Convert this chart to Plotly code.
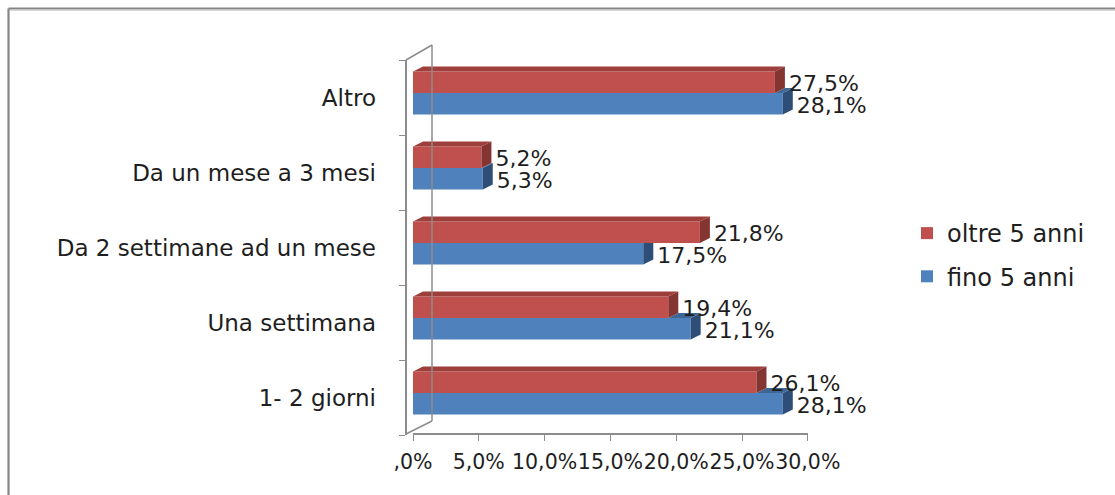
import plotly.graph_objects as go

# ---- data -------------------------------------------------------------
categorie = ["1- 2 giorni", "Una settimana", "Da 2 settimane ad un mese",
             "Da un mese a 3 mesi", "Altro"]
oltre_5_anni = [26.1, 19.4, 21.8, 5.2, 27.5]
fino_5_anni = [28.1, 21.1, 17.5, 5.3, 28.1]
tick_valori = [0, 5, 10, 15, 20, 25, 30]
tick_etichette = [",0%", "5,0%", "10,0%", "15,0%", "20,0%", "25,0%", "30,0%"]

# ---- page geometry (pixels) ------------------------------------------
W, H = 1115, 495


def fx(px):
    return px / W


def fy(py):
    return 1 - py / H


BAR_X0, BAR_X30 = 413, 807.8      # front faces of the bars
AX_X0, AX_X30 = 406, 800          # visible value axis
Y_TOP, Y_BOT = 60, 435            # category axis extent
XMAX = 30
N = len(categorie)

ux = XMAX / (BAR_X30 - BAR_X0)    # data units per pixel (x)
uy = N / (Y_BOT - Y_TOP)          # data units per pixel (y)

BAR_W = 21.5 * uy                 # thickness of each bar
SHIFT = 4.5 * uy                  # pair centre sits a little above slot centre
DX, DY = 10 * ux, 5 * uy          # oblique depth of the 3-D bars

RED, BLUE = "#C0504D", "#4F81BD"
RED_TOP, RED_SIDE = "#9F3F3C", "#843431"
BLUE_TOP, BLUE_SIDE = "#3E6796", "#2F4E77"
GRID = "#8C8C8C"
FONT = "DejaVu Sans, Verdana, sans-serif"
TXT = "#1E1E1E"
FS_CAT = 23
FS_VAL = 22
FS_TICK = 20.5
FS_LEG = 24

ypos = list(range(N))


def fmt(v):
    return f"{v:.1f}".replace(".", ",") + "%"


def polys(list_of_pts):
    xs, ys = [], []
    for pts in list_of_pts:
        for x, y in pts:
            xs.append(x)
            ys.append(y)
        xs.append(pts[0][0])
        ys.append(pts[0][1])
        xs.append(None)
        ys.append(None)
    return xs, ys


# ---- faces of the 3-D bars --------------------------------------------
red_top, red_side, blue_top, blue_side = [], [], [], []
for i, (vr, vb) in enumerate(zip(oltre_5_anni, fino_5_anni)):
    yr_top = i + SHIFT + BAR_W
    y_mid = i + SHIFT
    yb_bot = i + SHIFT - BAR_W
    red_top.append([(0, yr_top), (vr, yr_top), (vr + DX, yr_top + DY), (DX, yr_top + DY)])
    red_side.append([(vr, y_mid), (vr + DX, y_mid + DY), (vr + DX, yr_top + DY), (vr, yr_top)])
    if vr > vb:
        # the red bar hides the upper part of the blue side face
        blue_side.append([(vb, yb_bot), (vb + DX, yb_bot + DY), (vb + DX, y_mid), (vb, y_mid)])
    else:
        blue_side.append([(vb, yb_bot), (vb + DX, yb_bot + DY), (vb + DX, y_mid + DY), (vb, y_mid)])
        blue_top.append([(vr, y_mid), (vb, y_mid), (vb + DX, y_mid + DY), (vr + DX, y_mid + DY)])

fig = go.Figure()

fig.add_trace(go.Bar(
    name="oltre 5 anni", y=ypos, x=oltre_5_anni, orientation="h",
    width=BAR_W, offset=SHIFT, marker=dict(color=RED, line=dict(width=0)),
    legendgroup="r", hoverinfo="skip"))
fig.add_trace(go.Bar(
    name="fino 5 anni", y=ypos, x=fino_5_anni, orientation="h",
    width=BAR_W, offset=SHIFT - BAR_W, marker=dict(color=BLUE, line=dict(width=0)),
    legendgroup="b", hoverinfo="skip"))

for pts, col in [(blue_side, BLUE_SIDE), (blue_top, BLUE_TOP),
                 (red_top, RED_TOP), (red_side, RED_SIDE)]:
    if not pts:
        continue
    xs, ys = polys(pts)
    fig.add_trace(go.Scatter(
        x=xs, y=ys, mode="lines", fill="toself", fillcolor=col,
        line=dict(width=0, color=col), showlegend=False, hoverinfo="skip"))

# value labels
LBL = 4 * ux
fig.add_trace(go.Scatter(
    x=[v + DX + LBL for v in oltre_5_anni], y=[i + SHIFT + BAR_W / 2 - 3 * uy for i in ypos],
    mode="text", text=[fmt(v) for v in oltre_5_anni], textposition="middle right",
    textfont=dict(family=FONT, size=FS_VAL, color=TXT), showlegend=False, hoverinfo="skip",
    cliponaxis=False))
fig.add_trace(go.Scatter(
    x=[v + DX + LBL for v in fino_5_anni], y=[i + SHIFT - BAR_W / 2 - 4 * uy for i in ypos],
    mode="text", text=[fmt(v) for v in fino_5_anni], textposition="middle right",
    textfont=dict(family=FONT, size=FS_VAL, color=TXT), showlegend=False, hoverinfo="skip",
    cliponaxis=False))

# carrier for the visible value axis and the category boundary ticks
fig.add_trace(go.Scatter(x=[0], y=[-0.5], xaxis="x2", yaxis="y2", mode="markers",
                         marker=dict(opacity=0), showlegend=False, hoverinfo="skip"))

# ---- layout -------------------------------------------------------------
shapes = [
    # outer frame (only its top and left edges fall inside the page)
    dict(type="line", xref="paper", yref="paper", x0=fx(8.5), y0=fy(8.5), x1=1.0, y1=fy(8.5),
         line=dict(color="#858585", width=2.2)),
    dict(type="line", xref="paper", yref="paper", x0=fx(8.5), y0=fy(8.5), x1=fx(8.5), y1=0.0,
         line=dict(color="#858585", width=2.2)),
    dict(type="line", xref="paper", yref="paper", x0=fx(10), y0=fy(10.5), x1=1.0, y1=fy(10.5),
         line=dict(color="#D8D8D8", width=1)),
    # back wall of the 3-D plot
    dict(type="line", xref="paper", yref="paper", x0=fx(432), y0=fy(45), x1=fx(432), y1=fy(421),
         line=dict(color=GRID, width=1.5)),
    dict(type="line", xref="paper", yref="paper", x0=fx(406), y0=fy(60), x1=fx(432), y1=fy(45),
         line=dict(color=GRID, width=1.5)),
    dict(type="line", xref="paper", yref="paper", x0=fx(406), y0=fy(434), x1=fx(432), y1=fy(421),
         line=dict(color=GRID, width=1.5)),
]

fig.update_layout(
    width=W, height=H,
    autosize=False,
    margin=dict(l=0, r=0, t=0, b=0, pad=0, autoexpand=False),
    paper_bgcolor="white", plot_bgcolor="rgba(0,0,0,0)",
    barmode="overlay",
    font=dict(family=FONT, size=FS_CAT, color=TXT),
    shapes=shapes,
    showlegend=True,
    legend=dict(
        x=fx(907), y=fy(255), xanchor="left", yanchor="middle",
        traceorder="grouped", tracegroupgap=9,
        font=dict(family=FONT, size=FS_LEG, color=TXT),
        bgcolor="rgba(0,0,0,0)", itemclick=False, itemdoubleclick=False),
    xaxis=dict(domain=[fx(BAR_X0), fx(BAR_X30)], range=[0, XMAX], visible=False,
               fixedrange=True, automargin=False),
    yaxis=dict(domain=[fy(Y_BOT), fy(Y_TOP)], range=[-0.5, N - 0.5],
               tickvals=ypos, ticktext=categorie, ticks="", showline=False,
               showgrid=False, zeroline=False, anchor="free", position=fx(AX_X0),
               ticklabelstandoff=30, tickfont=dict(family=FONT, size=FS_CAT, color=TXT),
               fixedrange=True, automargin=False),
    xaxis2=dict(overlaying="x", domain=[fx(AX_X0), fx(AX_X30)], range=[0, XMAX],
                anchor="free", position=fy(434), tickvals=tick_valori,
                ticktext=tick_etichette, ticks="outside", ticklen=6, tickcolor=GRID,
                showline=True, linecolor=GRID, linewidth=1.5, showgrid=False,
                zeroline=False, ticklabelstandoff=4, tickangle=0,
                tickfont=dict(family=FONT, size=FS_TICK, color=TXT), fixedrange=True,
                automargin=False),
    yaxis2=dict(overlaying="y", domain=[fy(Y_BOT), fy(Y_TOP)], range=[-0.5, N - 0.5],
                anchor="free", position=fx(AX_X0),
                tickvals=[k - 0.5 for k in range(N + 1)], ticks="outside", ticklen=6,
                tickcolor=GRID, showticklabels=False, showline=True, linecolor=GRID,
                linewidth=1.5, showgrid=False, zeroline=False, fixedrange=True,
                automargin=False),
)

fig.write_html("out.html")
